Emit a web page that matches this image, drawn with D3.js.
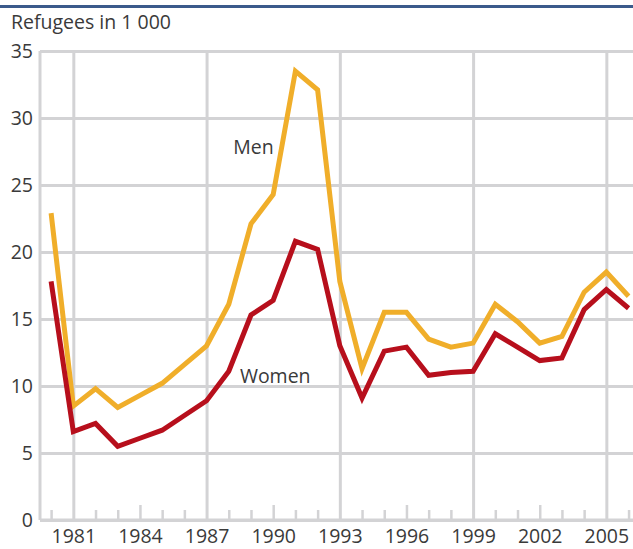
<!DOCTYPE html>
<html>
<head>
<meta charset="utf-8">
<script src="https://cdn.jsdelivr.net/npm/d3@7"></script>
<style>
  body { margin: 0; background: #fff; }
  svg { display: block; font-family: 'Open Sans', sans-serif; }
  .axis .domain { display: none; }
</style>
</head>
<body>
<div id="chart"></div>
<script>
// data
var years = d3.range(1980, 2007)
var men = [22.9, 8.5, 9.8, 8.4, 9.3, 10.2, 11.6, 13.0, 16.1, 22.1, 24.3, 33.5, 32.1, 17.8, 11.3,
  15.5, 15.5, 13.5, 12.9, 13.2, 16.1, 14.8, 13.2, 13.7, 17.0, 18.5, 16.7]
var women = [17.8, 6.6, 7.2, 5.5, 6.1, 6.7, 7.8, 8.9, 11.1, 15.3, 16.4, 20.8, 20.2, 13.0, 9.1,
  12.6, 12.9, 10.8, 11.0, 11.1, 13.9, 12.9, 11.9, 12.1, 15.7, 17.2, 15.8]
var yTicks = [0, 5, 10, 15, 20, 25, 30, 35]
var xLabels = [1981, 1984, 1987, 1990, 1993, 1996, 1999, 2002, 2005]
var xGrid = [1981, 1987, 1993, 1999, 2005]
var xMid = [1984, 1990, 1996, 2002]

var margin = { top: 51, left: 40, right: 0, bottom: 29 }
var width = 633 - margin.left - margin.right
var height = 549 - margin.top - margin.bottom

var grey = '#d3d3d5'
var textColor = '#3a3a3a'
var fontSize = 19.5

var svg = d3.select('#chart')
  .append('svg')
  .attr('width', 633)
  .attr('height', 549)

// blue rule at the top
svg.append('rect')
  .attr('x', 0).attr('y', 5)
  .attr('width', 633).attr('height', 3)
  .attr('fill', '#3b5a8b')

svg.append('text')
  .attr('x', 11).attr('y', 29)
  .attr('font-size', fontSize)
  .attr('fill', textColor)
  .text('Refugees in 1 000')

var g = svg.append('g')
  .attr('transform', 'translate(' + margin.left + ',' + margin.top + ')')

var x = d3.scaleLinear().domain([1979.5, 2006.2]).range([0, width])
var y = d3.scaleLinear().domain([0, 35]).range([height, 0])

// horizontal grid + y labels
var yAxis = d3.axisLeft(y).tickValues(yTicks).tickSize(-width).tickPadding(8)
g.append('g')
  .attr('class', 'axis y-axis')
  .call(yAxis)
  .call(s => s.selectAll('line').attr('stroke', grey).attr('stroke-width', 3))
  .call(s => s.selectAll('text').attr('font-size', fontSize).attr('fill', textColor)
    .attr('font-family', 'Open Sans, sans-serif').attr('x', -7))

// vertical grid lines
g.append('g')
  .attr('class', 'axis x-grid')
  .attr('transform', 'translate(0,' + height + ')')
  .call(d3.axisBottom(x).tickValues(xGrid).tickSize(-height).tickFormat(''))
  .call(s => s.selectAll('line').attr('stroke', grey).attr('stroke-width', 3))

// small year ticks
g.append('g')
  .attr('class', 'axis x-minor')
  .attr('transform', 'translate(0,' + height + ')')
  .call(d3.axisBottom(x).tickValues(years.filter(d => xGrid.indexOf(d) < 0 && xMid.indexOf(d) < 0))
    .tickSize(-10).tickFormat(''))
  .call(s => s.selectAll('line').attr('stroke', grey).attr('stroke-width', 2.5))

g.append('g')
  .attr('class', 'axis x-mid')
  .attr('transform', 'translate(0,' + height + ')')
  .call(d3.axisBottom(x).tickValues(xMid).tickSize(-15).tickFormat(''))
  .call(s => s.selectAll('line').attr('stroke', grey).attr('stroke-width', 2.5))

// year labels
g.append('g')
  .attr('class', 'axis x-axis')
  .attr('transform', 'translate(0,' + height + ')')
  .call(d3.axisBottom(x).tickValues(xLabels).tickSize(0).tickPadding(9).tickFormat(d3.format('d')))
  .call(s => s.selectAll('text').attr('font-size', fontSize).attr('fill', textColor)
    .attr('font-family', 'Open Sans, sans-serif'))

// left and bottom frame
g.append('line')
  .attr('x1', 0).attr('x2', 0).attr('y1', 0).attr('y2', height)
  .attr('stroke', grey).attr('stroke-width', 3)
g.append('line')
  .attr('x1', 0).attr('x2', width).attr('y1', height).attr('y2', height)
  .attr('stroke', grey).attr('stroke-width', 3)

var line = d3.line()
  .x((d, i) => x(years[i]))
  .y(d => y(d))

g.append('path')
  .datum(men)
  .attr('d', line)
  .attr('fill', 'none')
  .attr('stroke', '#f0ae2a')
  .attr('stroke-width', 5)

g.append('path')
  .datum(women)
  .attr('d', line)
  .attr('fill', 'none')
  .attr('stroke', '#b70f1c')
  .attr('stroke-width', 5)

g.append('text')
  .attr('x', x(1988.2)).attr('y', y(27.3))
  .attr('font-size', fontSize).attr('fill', textColor)
  .text('Men')

g.append('text')
  .attr('x', x(1988.5)).attr('y', y(10.2))
  .attr('font-size', fontSize).attr('fill', textColor)
  .text('Women')
</script>
</body>
</html>
